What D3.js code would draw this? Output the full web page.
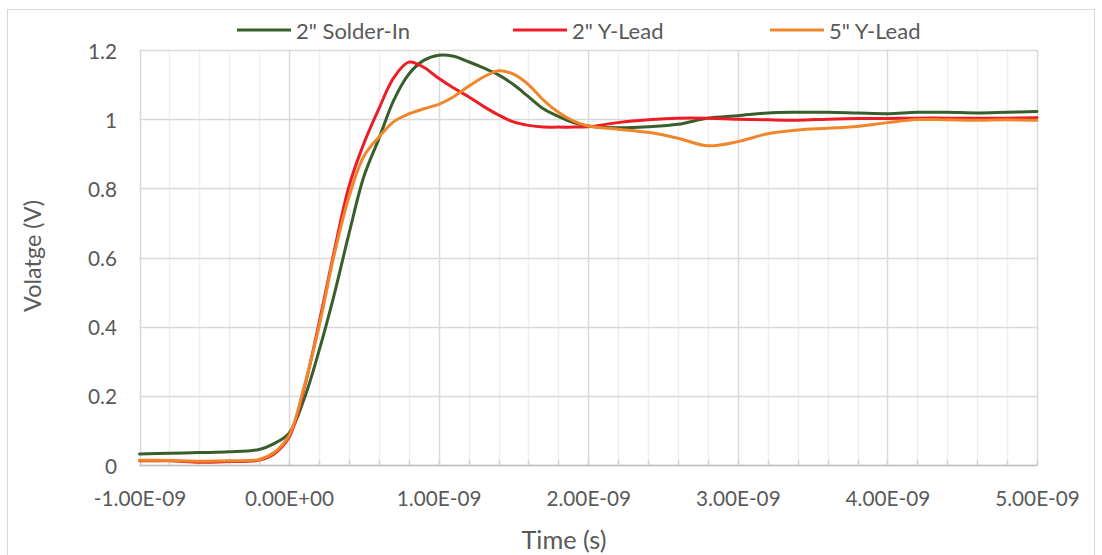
<!DOCTYPE html>
<html>
<head>
<meta charset="utf-8">
<script src="https://cdn.jsdelivr.net/npm/d3@7"></script>
<style>
  html, body { margin: 0; padding: 0; background: #fff; }
  svg { display: block; }
  text { font-family: Lato, "Open Sans", sans-serif; fill: #595959; }
</style>
</head>
<body>
<svg id="chart" width="1102" height="555"></svg>
<script>
// Sample times in nanoseconds
const timeNs = [-1.0, -0.8, -0.6, -0.4, -0.2, -0.1, 0.0, 0.1, 0.2, 0.3, 0.4, 0.5, 0.6, 0.7, 0.8, 0.9,
  1.0, 1.1, 1.2, 1.3, 1.4, 1.5, 1.6, 1.7, 1.8, 1.9, 2.0, 2.2, 2.4, 2.6, 2.8, 3.0, 3.2, 3.4, 3.6, 3.8,
  4.0, 4.2, 4.4, 4.6, 4.8, 5.0];

// Measured voltage (V) for each probe configuration
const solderIn2 = [0.032, 0.034, 0.036, 0.038, 0.045, 0.062, 0.092, 0.190, 0.330, 0.490, 0.668, 0.834, 0.943, 1.055, 1.130, 1.170,
  1.185, 1.182, 1.166, 1.148, 1.128, 1.100, 1.065, 1.030, 1.008, 0.990, 0.980, 0.975, 0.978, 0.985, 1.003, 1.010, 1.018, 1.020, 1.020, 1.018,
  1.016, 1.020, 1.020, 1.018, 1.020, 1.022];
const yLead2 = [0.012, 0.012, 0.008, 0.010, 0.014, 0.032, 0.080, 0.220, 0.410, 0.615, 0.805, 0.930, 1.030, 1.120, 1.165, 1.150,
  1.118, 1.090, 1.065, 1.037, 1.012, 0.992, 0.982, 0.977, 0.977, 0.977, 0.978, 0.990, 0.998, 1.003, 1.003, 1.000, 0.998, 0.997, 1.000, 1.002,
  1.002, 1.003, 1.003, 1.003, 1.003, 1.004];
const yLead5 = [0.014, 0.013, 0.011, 0.012, 0.016, 0.036, 0.085, 0.225, 0.400, 0.605, 0.775, 0.893, 0.948, 0.993, 1.015, 1.030,
  1.043, 1.065, 1.095, 1.122, 1.140, 1.130, 1.100, 1.055, 1.020, 0.995, 0.980, 0.971, 0.962, 0.945, 0.923, 0.935, 0.958, 0.969, 0.974, 0.979,
  0.990, 0.999, 0.998, 0.997, 0.998, 0.997];

const seriesNames = ['2" Solder-In', '2" Y-Lead', '5" Y-Lead'];
const seriesColors = ["#385f2b", "#ee1d25", "#f0862a"];
const xTickValues = [-1, 0, 1, 2, 3, 4, 5];
const xTickLabels = ["-1.00E-09", "0.00E+00", "1.00E-09", "2.00E-09", "3.00E-09", "4.00E-09", "5.00E-09"];
const yTickValues = [0, 0.2, 0.4, 0.6, 0.8, 1.0, 1.2];
const yTickLabels = ["0", "0.2", "0.4", "0.6", "0.8", "1", "1.2"];

const series = [solderIn2, yLead2, yLead5].map((vals, i) => ({
  name: seriesNames[i],
  color: seriesColors[i],
  points: timeNs.map((t, j) => ({ t, v: vals[j] }))
}));

const svg = d3.select("#chart");
const plot = { left: 139.5, right: 1037, top: 50, bottom: 465 };

// Scale a text element's font so its rendered width equals the given width
function fitFont(textSel, width) {
  const node = textSel.node();
  textSel.attr("font-size", 20);
  const w = node.getComputedTextLength();
  return 20 * width / w;
}

// Chart frame
svg.append("rect")
  .attr("x", 7.5).attr("y", 9.5)
  .attr("width", 1087).attr("height", 570)
  .attr("fill", "#fff").attr("stroke", "#d9d9d9").attr("stroke-width", 1);

const x = d3.scaleLinear().domain([-1, 5]).range([plot.left, plot.right]);
const y = d3.scaleLinear().domain([0, 1.2]).range([plot.bottom, plot.top]);
const px = v => Math.round(v) + 0.5;

// Minor vertical gridlines every 0.2 ns
const minorX = d3.range(-1, 5.0001, 0.2).filter(v => Math.abs(v - Math.round(v)) > 1e-6);
svg.append("g").selectAll("line").data(minorX).join("line")
  .attr("x1", d => px(x(d))).attr("x2", d => px(x(d)))
  .attr("y1", plot.top).attr("y2", plot.bottom)
  .attr("stroke", "#efefef").attr("stroke-width", 1.5);

// Major vertical gridlines
svg.append("g").selectAll("line").data(xTickValues).join("line")
  .attr("x1", d => px(x(d))).attr("x2", d => px(x(d)))
  .attr("y1", plot.top).attr("y2", plot.bottom)
  .attr("stroke", "#d9d9d9").attr("stroke-width", 1.5);

// Horizontal gridlines
svg.append("g").selectAll("line").data(yTickValues).join("line")
  .attr("x1", plot.left).attr("x2", plot.right)
  .attr("y1", d => px(y(d))).attr("y2", d => px(y(d)))
  .attr("stroke", "#d9d9d9").attr("stroke-width", 1.5);

// Bottom axis with minor tick marks
const xAxisG = svg.append("g").attr("transform", `translate(0,${px(y(0))})`);
xAxisG.append("line").attr("x1", plot.left).attr("x2", plot.right)
  .attr("stroke", "#bfbfbf").attr("stroke-width", 1.5);
xAxisG.selectAll("line.tick").data(d3.range(-1, 5.0001, 0.2)).join("line")
  .attr("class", "tick")
  .attr("x1", d => px(x(d))).attr("x2", d => px(x(d)))
  .attr("y1", -5).attr("y2", 0)
  .attr("stroke", "#cfcfcf").attr("stroke-width", 1.5);

// X tick labels
const xAxis = d3.axisBottom(x).tickValues(xTickValues)
  .tickFormat((d, i) => xTickLabels[i]).tickSize(0).tickPadding(0);
const xg = svg.append("g").attr("transform", `translate(0,498)`).call(xAxis);
xg.select(".domain").remove();
const tickFont = fitFont(xg.selectAll("text").filter((d, i) => i === 1), 89);
xg.selectAll("text").attr("font-size", tickFont).attr("dy", null)
  .attr("dominant-baseline", "central").attr("fill", "#595959")
  .attr("font-family", "Lato, 'Open Sans', sans-serif");

// Y tick labels
const yAxis = d3.axisLeft(y).tickValues(yTickValues)
  .tickFormat((d, i) => yTickLabels[i]).tickSize(0).tickPadding(0);
const yg = svg.append("g").attr("transform", `translate(117,0)`).call(yAxis);
yg.select(".domain").remove();
yg.selectAll("text").attr("font-size", tickFont).attr("dy", null)
  .attr("dominant-baseline", "central").attr("fill", "#595959")
  .attr("font-family", "Lato, 'Open Sans', sans-serif");

// Series lines, smoothed through the samples
const line = d3.line().x(d => x(d.t)).y(d => y(d.v)).curve(d3.curveCatmullRom.alpha(0.5));
svg.append("g").selectAll("path").data(series).join("path")
  .attr("d", d => line(d.points))
  .attr("fill", "none")
  .attr("stroke", d => d.color)
  .attr("stroke-width", 3)
  .attr("stroke-linejoin", "round")
  .attr("stroke-linecap", "round");

// Axis titles
const xTitle = svg.append("text").attr("x", 564).attr("y", 539)
  .attr("text-anchor", "middle").attr("dominant-baseline", "central")
  .text("Time (s)");
xTitle.attr("font-size", fitFont(xTitle, 85));
const yTitle = svg.append("text").attr("transform", "translate(32,256) rotate(-90)")
  .attr("text-anchor", "middle").attr("dominant-baseline", "central")
  .text("Volatge (V)");
yTitle.attr("font-size", fitFont(yTitle, 112));

// Legend
const legendX = [237, 513, 770];
const legend = svg.append("g").selectAll("g").data(series).join("g")
  .attr("transform", (d, i) => `translate(${legendX[i]},30)`);
legend.append("line").attr("x1", 0).attr("x2", 54).attr("y1", 0).attr("y2", 0)
  .attr("stroke", d => d.color).attr("stroke-width", 3);
const legendText = legend.append("text").attr("x", 59).attr("y", 0)
  .attr("dominant-baseline", "central").text(d => d.name);
const legendFont = fitFont(legendText.filter((d, i) => i === 0), 114);
legendText.attr("font-size", legendFont);
</script>
</body>
</html>
